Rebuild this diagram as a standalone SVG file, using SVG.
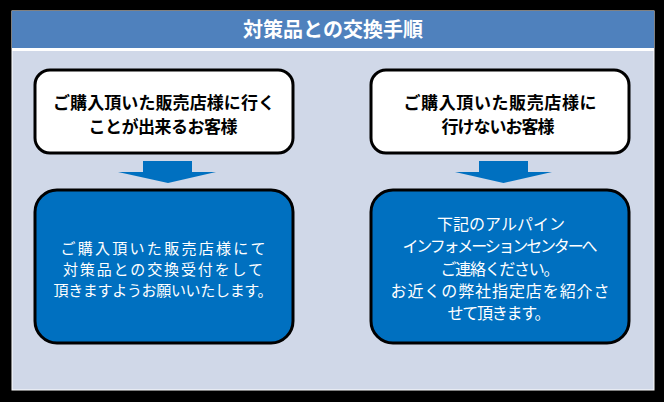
<svg xmlns="http://www.w3.org/2000/svg" width="664" height="402" viewBox="0 0 664 402">
<style>
.t{font-family:"Noto Sans CJK JP","Liberation Sans",sans-serif;text-anchor:middle;dominant-baseline:central}
.top{font-size:17px;font-weight:bold;fill:#000}
.bot{font-size:16px;fill:#fff}
.bot2{font-size:15px;fill:#fff}
.wbox{fill:#fff;stroke:#000;stroke-width:3}
.bbox{fill:#0070c0;stroke:#000;stroke-width:3}
.arr{fill:#0070c0}
</style>
<rect x="0" y="0" width="664" height="402" fill="#000"/>
<g id="panel">
<rect x="12" y="11" width="642" height="379" fill="#d0d8e8" stroke="#fff" stroke-width="1"/>
<rect x="12" y="11" width="642" height="37" fill="#4f81bd"/>
<rect x="12" y="48" width="642" height="3" fill="#fff"/>
<text class="t" x="333" y="28" font-size="20" font-weight="bold" fill="#fff" textLength="180">対策品との交換手順</text>
</g>
<g id="node-left-top">
<rect class="wbox" x="35" y="70" width="258" height="83" rx="15"/>
<text class="t top" x="164" y="101" textLength="222">ご購入頂いた販売店様に行く</text>
<text class="t top" x="163" y="125" textLength="149">ことが出来るお客様</text>
</g>
<g id="node-right-top">
<rect class="wbox" x="371" y="70" width="258" height="83" rx="15"/>
<text class="t top" x="500" y="101" textLength="193">ご購入頂いた販売店様に</text>
<text class="t top" x="498" y="125" textLength="113">行けないお客様</text>
</g>
<g id="node-left-bottom">
<rect class="bbox" x="35" y="190" width="258" height="153" rx="22"/>
<text class="t bot2" x="163" y="247" textLength="205">ご購入頂いた販売店様にて</text>
<text class="t bot2" x="163" y="268" textLength="200">対策品との交換受付をして</text>
<text class="t bot2" x="163" y="289" textLength="219">頂きますようお願いいたします。</text>
</g>
<g id="node-right-bottom">
<rect class="bbox" x="371" y="190" width="258" height="153" rx="22"/>
<text class="t bot" x="501" y="223" textLength="128">下記のアルパイン</text>
<text class="t bot" x="500" y="245" textLength="195">インフォメーションセンターへ</text>
<text class="t bot" x="500" y="268" textLength="119">ご連絡ください。</text>
<text class="t bot" x="500" y="290" textLength="219">お近くの弊社指定店を紹介さ</text>
<text class="t bot" x="499" y="312" textLength="103">せて頂きます。</text>
</g>
<g id="connectors">
<polygon class="arr" points="143,161 192,161 192,172 216,172 168,183 118,172 143,172"/>
<polygon class="arr" points="479,161 528,161 528,172 552,172 503.5,183 455,172 479,172"/>
</g>
</svg>
